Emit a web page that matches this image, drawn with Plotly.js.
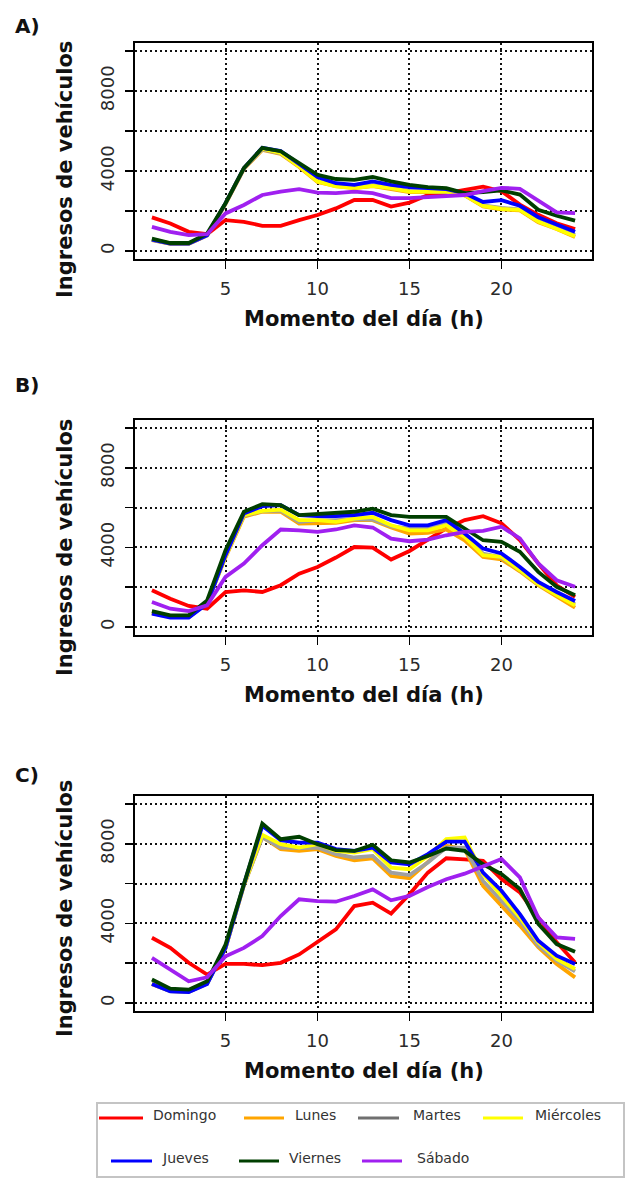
<!DOCTYPE html>
<html>
<head>
<meta charset="utf-8">
<script src="https://cdn.plot.ly/plotly-3.0.1.min.js"></script>
<style>html,body{margin:0;padding:0;background:#fff;}#chart{width:627px;height:1179px;}</style>
</head>
<body>
<div id="chart"></div>
<script>
// ---------- DATA ----------
const hours = [1,2,3,4,5,6,7,8,9,10,11,12,13,14,15,16,17,18,19,20,21,22,23,24];
const days = ["Domingo","Lunes","Martes","Miércoles","Jueves","Viernes","Sábado"];
const panelLabels = ["A)","B)","C)"];
const xTickVals = [5,10,15,20];
const yTickVals = [0,2000,4000,6000,8000,10000];
const yTickText = ["0","","4000","","8000",""];
const xTitle = "Momento del día (h)";
const yTitle = "Ingresos de vehículos";

// Panel A
const domingoA   = [1680,1380,960,840,1545,1460,1260,1260,1545,1800,2130,2550,2550,2220,2420,2800,2890,3060,3220,2990,2320,1810,1390,1100];
const lunesA     = [540,360,360,780,2350,4100,5050,4850,4200,3450,3250,3150,3250,3100,2950,2950,2950,2780,2230,2080,2030,1430,1100,700];
const martesA    = [560,370,370,790,2380,4130,5080,4880,4250,3500,3280,3200,3300,3150,3000,2980,2960,2800,2280,2150,2080,1500,1160,800];
const miercolesA = [580,380,380,800,2390,4150,5120,4900,4230,3480,3230,3140,3260,3140,2970,2970,2970,2800,2250,2100,2060,1470,1130,740];
const juevesA    = [570,370,370,790,2390,4150,5160,5000,4350,3700,3390,3310,3480,3310,3190,3140,3090,2890,2450,2540,2260,1690,1300,960];
const viernesA   = [620,400,400,870,2390,4150,5160,4990,4400,3810,3600,3560,3700,3480,3310,3190,3140,2890,2940,3030,2820,2060,1760,1520];
const sabadoA    = [1210,960,790,840,1880,2300,2800,2970,3090,2920,2890,2970,2890,2640,2640,2690,2720,2800,2990,3160,3110,2520,1930,1890];

// Panel B
const domingoB   = [1845,1425,1060,920,1760,1845,1760,2100,2680,3020,3490,4020,3990,3390,3820,4360,4950,5370,5570,5210,4370,3190,2100,1510];
const lunesB     = [700,520,500,1200,3500,5550,5790,5790,5200,5230,5230,5370,5370,5000,4700,4730,4900,4360,3520,3400,2800,2100,1550,970];
const martesB    = [720,520,500,1220,3550,5600,5820,5850,5280,5370,5370,5420,5400,5060,4950,4950,5200,4610,3690,3500,2850,2150,1620,1150];
const miercolesB = [720,510,500,1220,3550,5620,5840,5900,5370,5370,5280,5450,5530,5110,4860,4860,5110,4530,3610,3530,2860,2150,1600,1090];
const juevesB    = [670,470,470,1170,3610,5700,6070,6120,5620,5570,5570,5620,5740,5370,5110,5110,5370,4700,3940,3700,3020,2270,1760,1310];
const viernesB   = [800,590,590,1340,3860,5790,6170,6120,5620,5670,5700,5790,5950,5620,5530,5530,5530,4950,4360,4280,3780,2770,2020,1600];
const sabadoB    = [1260,920,800,1090,2520,3190,4110,4900,4860,4780,4900,5110,5000,4440,4310,4390,4610,4780,4830,5040,4450,3190,2350,2020];

// Panel C
const domingoC   = [3280,2770,2020,1430,1970,1970,1900,2020,2440,3050,3700,4870,5040,4490,5460,6550,7270,7220,7140,6230,5560,4300,3050,2040];
const lunesC     = [950,600,560,980,2750,5900,8350,7730,7640,7730,7390,7170,7270,6380,6270,7060,7900,7730,5880,4890,3890,2800,1960,1290];
const martesC    = [960,600,560,980,2760,5920,8320,7810,7780,7810,7480,7310,7390,6550,6430,7060,7810,7810,6130,5140,4140,2880,2130,1590];
const miercolesC = [970,610,570,990,2770,5940,8450,7980,7810,7980,7640,7560,7730,6800,6720,7390,8230,8320,6470,5390,4300,3050,2210,1710];
const juevesC    = [960,590,550,960,2770,5960,8900,8180,8060,8060,7730,7640,7810,7060,6970,7480,8110,8110,6550,5640,4470,3130,2380,1960];
const viernesC   = [1180,720,670,1090,2940,6050,9020,8230,8350,7980,7680,7640,7950,7170,7060,7390,7760,7640,6970,6480,5730,3970,2960,2580];
const sabadoC    = [2270,1680,1090,1290,2350,2770,3360,4370,5210,5120,5090,5380,5710,5160,5380,5830,6220,6500,6890,7240,6310,4300,3300,3220];

const panelData = [
  [domingoA, lunesA, martesA, miercolesA, juevesA, viernesA, sabadoA],
  [domingoB, lunesB, martesB, miercolesB, juevesB, viernesB, sabadoB],
  [domingoC, lunesC, martesC, miercolesC, juevesC, viernesC, sabadoC]
];

// ---------- STYLE / LAYOUT ----------
const colors = ["#ff0000","#ffa500","#a0a0a0","#ffff00","#0000ff","#003f00","#a020f0"];
const legendColors = ["#ff0000","#ffa500","#707070","#ffff00","#0000ff","#003f00","#a020f0"];
const W = 627, H = 1179;
const X = px => px / W;
const Y = py => 1 - py / H;

const frameX = [135, 592];
const frames = [[43, 259], [420, 635], [796, 1011]];
const yTitleCenters = [170, 548, 909];
const xTitleCenters = [319, 695, 1071];
const panelLabelY = [26, 385, 775];

const traces = [];
panelData.forEach((series, p) => {
  const sfx = p === 0 ? "" : String(p + 1);
  series.forEach((vals, d) => {
    traces.push({
      type: "scatter", mode: "lines",
      x: hours, y: vals,
      xaxis: "x" + sfx, yaxis: "y" + sfx,
      name: days[d], showlegend: false,
      line: {color: colors[d], width: 3.8},
      hoverinfo: "skip"
    });
  });
});

const tickFont = {family: "DejaVu Sans", size: 18, color: "#2a2a2a"};
const common = {
  showline: true, mirror: true, linecolor: "#000", linewidth: 2,
  ticks: "outside", ticklen: 8, tickwidth: 1.5, tickcolor: "#000",
  showgrid: true, gridcolor: "#111", griddash: "2px,3px", gridwidth: 2,
  zeroline: false, tickfont: tickFont, fixedrange: true
};

const layout = {
  width: W, height: H,
  margin: {l: 0, r: 0, t: 0, b: 0},
  paper_bgcolor: "#fff", plot_bgcolor: "#fff",
  font: {family: "DejaVu Sans", color: "#111"},
  showlegend: false,
  annotations: [], shapes: []
};

frames.forEach((fr, p) => {
  const sfx = p === 0 ? "" : String(p + 1);
  layout["xaxis" + sfx] = Object.assign({}, common, {
    domain: [X(frameX[0]), X(frameX[1])],
    anchor: "y" + sfx,
    range: [0.08, 24.92],
    tickmode: "array", tickvals: xTickVals, ticktext: xTickVals.map(String),
    ticklabelstandoff: 4
  });
  layout["yaxis" + sfx] = Object.assign({}, common, {
    domain: [Y(fr[1]), Y(fr[0])],
    anchor: "x" + sfx,
    range: [-400, 10400],
    tickmode: "array", tickvals: yTickVals, ticktext: yTickText,
    tickangle: -90, ticklabelstandoff: 4
  });
  layout.annotations.push({
    xref: "paper", yref: "paper", x: X(27), y: Y(panelLabelY[p]),
    xanchor: "center", yanchor: "middle", showarrow: false,
    text: "<b>" + panelLabels[p] + "</b>",
    font: {family: "DejaVu Sans", size: 20, color: "#111"}
  });
  layout.annotations.push({
    xref: "paper", yref: "paper", x: X(65), y: Y(yTitleCenters[p]),
    xanchor: "center", yanchor: "middle", showarrow: false, textangle: -90,
    text: "<b>" + yTitle + "</b>",
    font: {family: "DejaVu Sans", size: 21, color: "#111"}
  });
  layout.annotations.push({
    xref: "paper", yref: "paper", x: X((frameX[0] + frameX[1]) / 2), y: Y(xTitleCenters[p]),
    xanchor: "center", yanchor: "middle", showarrow: false,
    text: "<b>" + xTitle + "</b>",
    font: {family: "DejaVu Sans", size: 21, color: "#111"}
  });
});

// ---------- manual legend box ----------
layout.shapes.push({
  type: "rect", xref: "paper", yref: "paper",
  x0: X(97), x1: X(624), y0: Y(1177), y1: Y(1103),
  line: {color: "#c4c4c4", width: 2}, fillcolor: "rgba(0,0,0,0)"
});
// [lineStart, lineEnd, textStart, rowY]
const legendPos = [
  [99, 143, 151, 1117], [244, 284, 293, 1117], [358, 399, 411, 1117], [483, 523, 533, 1117],
  [111, 152, 160, 1160], [239, 279, 287, 1160], [362, 402, 415, 1160]
];
days.forEach((d, i) => {
  const [a, b, t, ry] = legendPos[i];
  layout.shapes.push({
    type: "line", xref: "paper", yref: "paper",
    x0: X(a), x1: X(b), y0: Y(ry + 1), y1: Y(ry + 1),
    line: {color: legendColors[i], width: 3}
  });
  layout.annotations.push({
    xref: "paper", yref: "paper", x: X(t), y: Y(ry - 2),
    xanchor: "left", yanchor: "middle", showarrow: false,
    text: d, font: {family: "DejaVu Sans", size: 14, color: "#333"}
  });
});

Plotly.newPlot("chart", traces, layout, {displayModeBar: false, staticPlot: true});
</script>
</body>
</html>
